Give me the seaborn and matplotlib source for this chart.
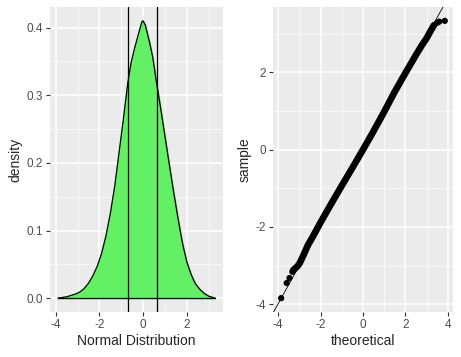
import seaborn as sns
import pandas as pd
import matplotlib.pyplot as plt
from matplotlib.ticker import MultipleLocator

# density curve
dens_x = [-3.9, -3.7, -3.5, -3.3, -3.1, -2.9, -2.7, -2.5, -2.3, -2.1, -1.9, -1.7,
          -1.5, -1.3, -1.1, -0.9, -0.7, -0.55, -0.4, -0.2, -0.05, 0.0, 0.1, 0.3,
          0.45, 0.6, 0.8, 1.0, 1.2, 1.4, 1.6, 1.8, 2.0, 2.2, 2.4, 2.6, 2.8, 3.0,
          3.15, 3.3]
dens_y = [0.0, 0.001, 0.002, 0.004, 0.006, 0.009, 0.014, 0.022, 0.033, 0.047, 0.066, 0.092,
          0.125, 0.165, 0.215, 0.265, 0.318, 0.348, 0.368, 0.392, 0.409, 0.410, 0.404, 0.378,
          0.355, 0.322, 0.282, 0.240, 0.198, 0.157, 0.118, 0.082, 0.054, 0.035, 0.021, 0.013,
          0.007, 0.003, 0.0015, 0.0]
quartiles = [-0.70, 0.63]

# qq plot: dense band of points plus the sparse tail points
band_theo = [-3.3, -3.1, -3.0, -2.8, -2.6, -2.4, -2.0, -1.5, -1.0, -0.5, 0.0,
             0.5, 1.0, 1.5, 2.0, 2.5, 2.8, 3.0, 3.2, 3.35]
band_samp = [-3.12, -3.02, -2.95, -2.72, -2.47, -2.28, -1.88, -1.40, -0.93, -0.47, 0.0,
             0.48, 0.98, 1.50, 1.98, 2.45, 2.72, 2.88, 3.08, 3.22]
tail_theo = [-3.86, -3.60, -3.47, -3.33, 3.50, 3.60, 3.86]
tail_samp = [-3.84, -3.45, -3.32, -3.16, 3.28, 3.31, 3.33]

sns.set_theme(style="darkgrid", rc={
    "axes.facecolor": "#EBEBEB",
    "grid.color": "white",
    "axes.edgecolor": "#EBEBEB",
    "axes.linewidth": 0,
    "xtick.bottom": True,
    "ytick.left": True,
    "xtick.color": "#333333",
    "ytick.color": "#333333",
    "xtick.labelcolor": "#4D4D4D",
    "ytick.labelcolor": "#4D4D4D",
    "xtick.major.size": 3,
    "ytick.major.size": 3,
    "xtick.major.width": 0.8,
    "ytick.major.width": 0.8,
    "xtick.major.pad": 2,
    "ytick.major.pad": 2,
    "xtick.labelsize": 8.5,
    "ytick.labelsize": 8.5,
    "axes.labelsize": 10,
})
plt.rcParams["font.family"] = ["Liberation Sans", "DejaVu Sans"]
plt.rcParams["axes.unicode_minus"] = False

fig = plt.figure(figsize=(4.61, 3.57), dpi=100)
W, H = 461, 357
ax1 = fig.add_axes([50 / W, (H - 312) / H, 173 / W, 305 / H])
ax2 = fig.add_axes([273 / W, (H - 312) / H, 180 / W, 305 / H])

for ax in (ax1, ax2):
    ax.grid(which="major", color="white", linewidth=1.1)
    ax.grid(which="minor", color="white", linewidth=0.5)
    ax.tick_params(which="minor", length=0)
    for s in ax.spines.values():
        s.set_visible(False)

# left: density
df_d = pd.DataFrame({"x": dens_x, "y": dens_y})
ax1.fill_between(df_d["x"], df_d["y"], color="#64F064", zorder=2)
sns.lineplot(data=df_d, x="x", y="y", color="black", linewidth=0.9, ax=ax1, zorder=3)
ax1.plot([dens_x[0], dens_x[-1]], [0, 0], color="black", linewidth=0.9, zorder=3)
for q in quartiles:
    ax1.axvline(q, color="black", linewidth=0.9, zorder=4)
xr = max(dens_x) - min(dens_x)
yr = max(dens_y) - min(dens_y)
ax1.xaxis.set_major_locator(MultipleLocator(2))
ax1.xaxis.set_minor_locator(MultipleLocator(1))
ax1.yaxis.set_major_locator(MultipleLocator(0.1))
ax1.yaxis.set_minor_locator(MultipleLocator(0.05))
ax1.set_xlim(min(dens_x) - 0.05 * xr, max(dens_x) + 0.05 * xr)
ax1.set_ylim(min(dens_y) - 0.05 * yr, max(dens_y) + 0.05 * yr)
ax1.yaxis.set_major_formatter(lambda v, p: f"{v:.1f}")
ax1.set_xlabel("Normal Distribution", labelpad=2)
ax1.set_ylabel("density", labelpad=3)

# right: qq plot
df_b = pd.DataFrame({"theoretical": band_theo, "sample": band_samp})
df_t = pd.DataFrame({"theoretical": tail_theo, "sample": tail_samp})
sns.lineplot(data=df_b, x="theoretical", y="sample", sort=False, color="black",
             linewidth=4.8, solid_capstyle="round", ax=ax2, zorder=3)
sns.scatterplot(data=df_t, x="theoretical", y="sample", color="black", s=20,
                edgecolor="none", ax=ax2, zorder=3)
# qq line through the quartile points
slope = (quartiles[1] - quartiles[0]) / (0.674 * 2)
icpt = (quartiles[0] + quartiles[1]) / 2
ax2.axline((0, icpt), slope=slope, color="black", linewidth=0.6, zorder=4)
all_t = band_theo + tail_theo
all_s = band_samp + tail_samp
tr = max(all_t) - min(all_t)
sr = max(all_s) - min(all_s)
ax2.xaxis.set_major_locator(MultipleLocator(2))
ax2.xaxis.set_minor_locator(MultipleLocator(1))
ax2.yaxis.set_major_locator(MultipleLocator(2))
ax2.yaxis.set_minor_locator(MultipleLocator(1))
ax2.set_xlim(min(all_t) - 0.05 * tr, max(all_t) + 0.05 * tr)
ax2.set_ylim(min(all_s) - 0.05 * sr, max(all_s) + 0.05 * sr)
ax2.set_xlabel("theoretical", labelpad=2)
ax2.set_ylabel("sample", labelpad=3)

fig.savefig("out.png", dpi=100)
